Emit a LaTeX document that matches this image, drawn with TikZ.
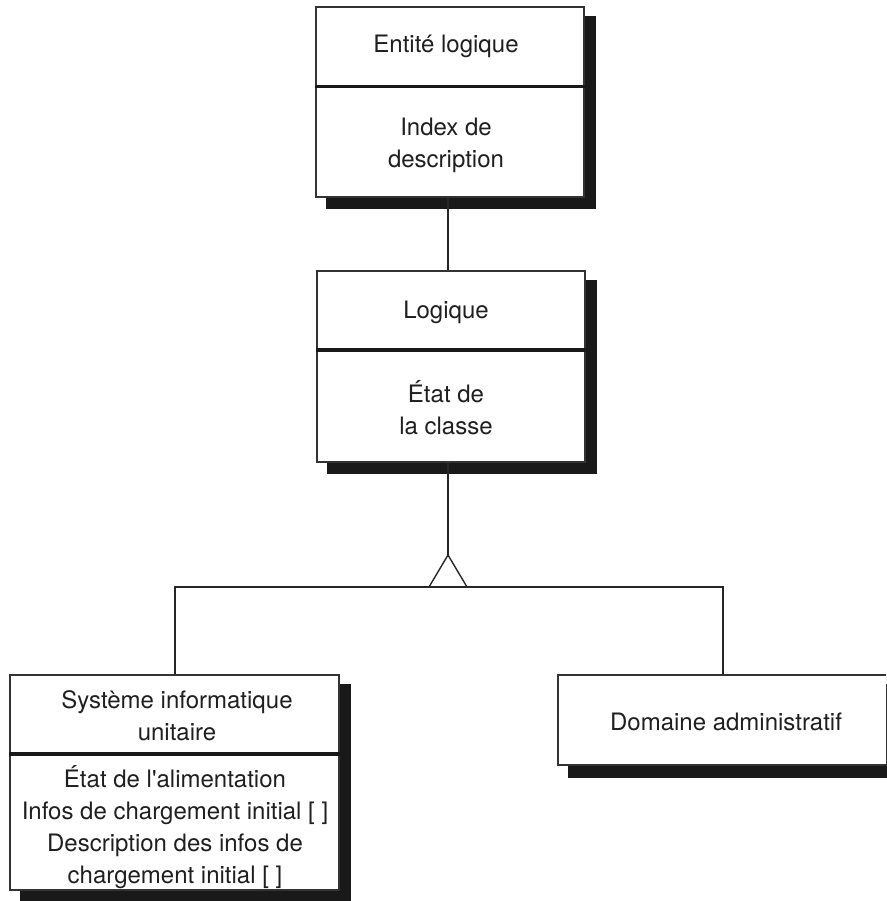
\documentclass[tikz,border=0pt]{standalone}
\usepackage{fontspec}
\setmainfont{TeX Gyre Heros}[Ligatures=TeXOff]
\usetikzlibrary{calc,backgrounds}
\begin{document}
\begin{tikzpicture}[x=1pt,y=-1pt,
  txt/.style={font=\fontsize{24}{32}\selectfont, text=black!88, align=center, inner sep=0pt},
  cell/.style={draw=black!80, line width=1.4pt, fill=white, inner sep=0pt},
  divider/.style={draw=black!90, line width=3.6pt},
  shadow/.style={fill=black!90},
  link/.style={draw=black!85, line width=1.4pt},
]
\useasboundingbox (0,0) rectangle (886,901);
\clip (0,0) rectangle (886,901);

% class: Entité logique
\node[cell, minimum width=268pt, minimum height=79pt] (ent) at (450,46.5) {};
\node[cell, minimum width=268pt, minimum height=111pt] (entB) at (450,141.5) {};
\draw[divider] (ent.south west) -- (ent.south east);
\node[txt] (entT) at (446,46) {Entité logique};
\node[txt] (entBT) at (446,145) {Index de\\description};

% class: Logique
\node[cell, minimum width=268pt, minimum height=78pt] (log) at (451,310) {};
\node[cell, minimum width=268pt, minimum height=113pt] (logB) at (451,405.5) {};
\draw[divider] (log.south west) -- (log.south east);
\node[txt] (logT) at (446,312) {Logique};
\node[txt] (logBT) at (446,408) {État de\\la classe};

% class: Système informatique unitaire
\node[cell, minimum width=329pt, minimum height=78pt] (sys) at (174.5,714) {};
\node[cell, minimum width=329pt, minimum height=137pt] (sysB) at (174.5,821.5) {};
\draw[divider] (sys.south west) -- (sys.south east);
\node[txt] (sysT) at (177,716) {Système informatique\\unitaire};
\node[txt] (sysBT) at (175,827) {État de l'alimentation\\Infos de chargement initial [ ]\\Description des infos de\\chargement initial [ ]};

% class: Domaine administratif
\node[cell, minimum width=336pt, minimum height=90pt] (dom) at (726,720) {};
\node[txt] (domT) at (726,722) {Domaine administratif};

% drop shadows
\begin{scope}[on background layer]
  \fill[shadow] ($(ent.north west)+(11,10)$) rectangle ($(entB.south east)+(11,11)$);
  \fill[shadow] ($(log.north west)+(11,10)$) rectangle ($(logB.south east)+(11,11)$);
  \fill[shadow] ($(sys.north west)+(11,10)$) rectangle ($(sysB.south east)+(11,11)$);
  \fill[shadow] ($(dom.north west)+(11,10)$) rectangle ($(dom.south east)+(11,12)$);
\end{scope}

% generalisation triangle and its branches
\coordinate (apex) at (448,555);
\coordinate (tl) at (429,587);
\coordinate (tr) at (467,587);
\coordinate (bl) at (175,587);
\coordinate (br) at (723,587);

% association
\draw[link] (entB.south -| apex) -- (log.north -| apex);

\draw[link] (logB.south -| apex) -- (apex);
\draw[link, line join=miter] (apex) -- (tl) -- (tr) -- cycle;
\draw[link] (sys.north -| bl) -- (bl) -- (br) -- (br |- dom.north);
\end{tikzpicture}
\end{document}
